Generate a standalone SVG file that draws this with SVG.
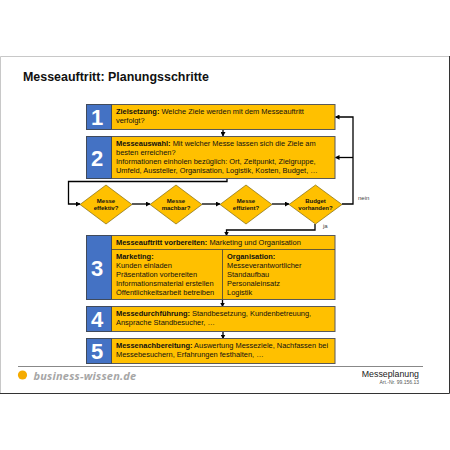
<svg xmlns="http://www.w3.org/2000/svg" width="450" height="450" viewBox="0 0 450 450">
<style>
text{font-family:"Liberation Sans",Arial,sans-serif;fill:#111}
.t{font-size:7.450px}
.b{font-weight:bold}
.box{fill:#ffc000;stroke:#595959;stroke-width:1}
.num{fill:#4472c4;stroke:#404a5a;stroke-width:1}
.n{font-size:22px;font-weight:bold;fill:#fff;text-anchor:middle}
.dia{fill:#ffc000;stroke:#7f6a10;stroke-width:.7}
.dt{font-size:6px;font-weight:bold;text-anchor:middle}
.c{fill:none;stroke:#000;stroke-width:1.3}
</style>
<defs><marker id="a" markerUnits="userSpaceOnUse" markerWidth="5" markerHeight="5" refX="4" refY="2.500" orient="auto"><path d="M0 0L4.500 2.500L0 5Z" fill="#000"/></marker></defs>
<rect x="0" y="0" width="450" height="450" fill="#fff"/>
<path d="M.5 393V56.500H449" stroke="#c8c8c8" stroke-width="1" fill="none"/>
<path d="M0 393.500H449.500V56" stroke="#333" stroke-width="1" fill="none"/>
<text x="23" y="80.500" font-size="12.450" class="b">Messeauftritt: Planungsschritte</text>
<g id="connectors">
<path class="c" d="M223 129.500V136" marker-end="url(#a)"/>
<path class="c" d="M227 178.500V181.500H68.500V204H80" marker-end="url(#a)"/>
<path class="c" d="M132 204H150" marker-end="url(#a)"/>
<path class="c" d="M202 204H220" marker-end="url(#a)"/>
<path class="c" d="M272 204H289" marker-end="url(#a)"/>
<path class="c" d="M342 204H353V117H335.500" marker-end="url(#a)"/>
<path class="c" d="M353 157.500H335.500" marker-end="url(#a)"/>
<path class="c" d="M315 224V230H226.500V235.500" marker-end="url(#a)"/>
<path class="c" d="M222.500 299.500V306.500" marker-end="url(#a)"/>
<path class="c" d="M223 331.500V338.500" marker-end="url(#a)"/>
</g>
<g id="step1">
<rect class="box" x="86.500" y="104.500" width="248.500" height="25"/>
<rect class="num" x="86.500" y="104.500" width="25" height="25"/>
<text class="n" x="97" y="125">1</text>
<text class="t" x="116" y="114"><tspan class="b">Zielsetzung:</tspan> Welche Ziele werden mit dem Messeauftritt</text>
<text class="t" x="116" y="123">verfolgt?</text>
</g>
<g id="step2">
<rect class="box" x="86.500" y="136.500" width="248.500" height="42"/>
<rect class="num" x="86.500" y="136.500" width="25" height="42"/>
<text class="n" x="97" y="166">2</text>
<text class="t" x="116" y="146"><tspan class="b">Messeauswahl:</tspan> Mit welcher Messe lassen sich die Ziele am</text>
<text class="t" x="116" y="155">besten erreichen?</text>
<text class="t" x="116" y="164">Informationen einholen bezüglich: Ort, Zeitpunkt, Zielgruppe,</text>
<text class="t" x="116" y="173">Umfeld, Aussteller, Organisation, Logistik, Kosten, Budget, …</text>
</g>
<g id="d1"><path class="dia" d="M106 185L132 204.500L106 224L80 204.500Z"/><text class="dt" x="106" y="202.500">Messe</text><text class="dt" x="106" y="209.500">effektiv?</text></g>
<g id="d2"><path class="dia" d="M176 185L202 204.500L176 224L150 204.500Z"/><text class="dt" x="176" y="202.500">Messe</text><text class="dt" x="176" y="209.500">machbar?</text></g>
<g id="d3"><path class="dia" d="M246 185L272 204.500L246 224L220 204.500Z"/><text class="dt" x="246" y="202.500">Messe</text><text class="dt" x="246" y="209.500">effizient?</text></g>
<g id="d4"><path class="dia" d="M315.500 185L342 204.500L315.500 224L289 204.500Z"/><text class="dt" x="315.500" y="202.500">Budget</text><text class="dt" x="315.500" y="209.500">vorhanden?</text></g>
<text x="358" y="200" font-size="6" style="fill:#444">nein</text>
<text x="323" y="227.500" font-size="6" style="fill:#444">ja</text>
<g id="step3">
<rect class="box" x="86.500" y="235.500" width="248.500" height="64"/>
<rect class="num" x="86.500" y="235.500" width="25" height="64"/>
<path d="M111.500 249.500H335M222.500 249.500V299.500" stroke="#404040" stroke-width=".8" fill="none"/>
<text class="n" x="97" y="276">3</text>
<text class="t" x="116" y="245"><tspan class="b">Messeauftritt vorbereiten:</tspan> Marketing und Organisation</text>
<text class="t b" x="116" y="259">Marketing:</text>
<text class="t" x="116" y="268">Kunden einladen</text>
<text class="t" x="116" y="277">Präsentation vorbereiten</text>
<text class="t" x="116" y="286">Informationsmaterial erstellen</text>
<text class="t" x="116" y="295">Öffentlichkeitsarbeit betreiben</text>
<text class="t b" x="227" y="259">Organisation:</text>
<text class="t" x="227" y="268">Messeverantwortlicher</text>
<text class="t" x="227" y="277">Standaufbau</text>
<text class="t" x="227" y="286">Personaleinsatz</text>
<text class="t" x="227" y="295">Logistik</text>
</g>
<g id="step4">
<rect class="box" x="86.500" y="306.500" width="248.500" height="25"/>
<rect class="num" x="86.500" y="306.500" width="25" height="25"/>
<text class="n" x="97" y="327">4</text>
<text class="t" x="116" y="316"><tspan class="b">Messedurchführung:</tspan> Standbesetzung, Kundenbetreuung,</text>
<text class="t" x="116" y="325">Ansprache Standbesucher, …</text>
</g>
<g id="step5">
<rect class="box" x="86.500" y="338.500" width="248.500" height="25"/>
<rect class="num" x="86.500" y="338.500" width="25" height="25"/>
<text class="n" x="97" y="359">5</text>
<text class="t" x="116" y="348"><tspan class="b">Messenachbereitung:</tspan> Auswertung Messeziele, Nachfassen bei</text>
<text class="t" x="116" y="357">Messebesuchern, Erfahrungen festhalten, …</text>
</g>
<path d="M18 366.500H423" stroke="#888" stroke-width="1"/>
<circle cx="22.500" cy="375" r="4.600" fill="#f5ab00"/>
<text x="33.500" y="380" font-size="11" font-weight="bold" font-style="italic" letter-spacing=".2" style="font-family:'Open Sans',sans-serif;fill:#a6a6a6">business-wissen.de</text>
<text x="419" y="377" font-size="8.800" text-anchor="end" style="fill:#222">Messeplanung</text>
<text x="419" y="384" font-size="5" text-anchor="end" style="fill:#555">Art.-Nr. 99.156.13</text>
</svg>
